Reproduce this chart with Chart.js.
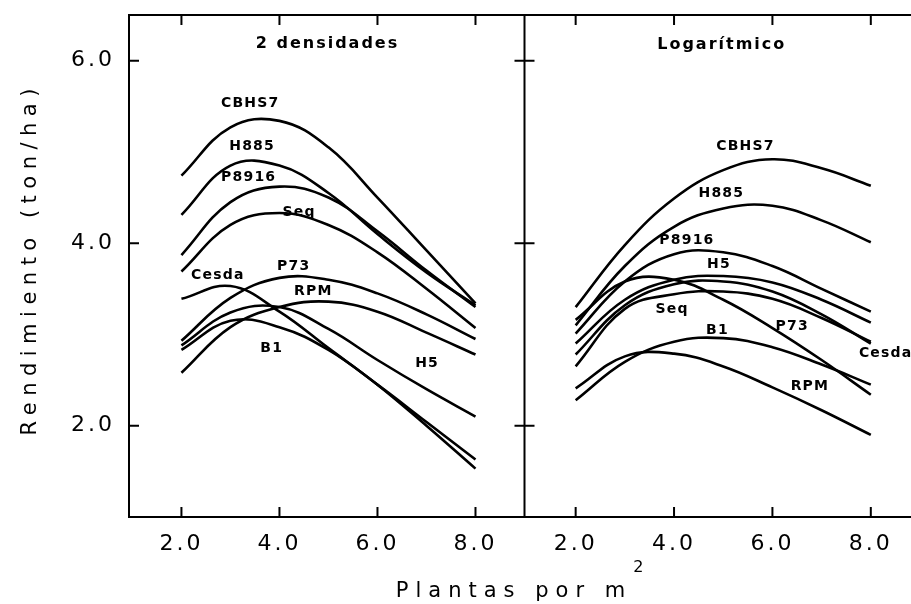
<!DOCTYPE html>
<html lang="es">
<head>
<meta charset="utf-8">
<title>Rendimiento por densidad de plantas</title>
<script src="https://cdn.jsdelivr.net/npm/chart.js@4.4.1/dist/chart.umd.min.js"></script>
<style>
  html, body { margin: 0; padding: 0; background: #fff; overflow: hidden; }
  #grafico { display: block; }
</style>
</head>
<body>
<canvas id="grafico" width="922" height="604"></canvas>
<script>
// Densidades evaluadas (plantas por m2) y marcas de los ejes
const densidades = [2, 3, 4, 5, 6, 7, 8];
const ticksX = [2, 4, 6, 8];
const ticksY = [2, 4, 6];

// Panel izquierdo: ajuste con 2 densidades (ton/ha)
const dosCBHS7 = [4.74, 5.27, 5.34, 5.05, 4.50, 3.92, 3.34];
const dosH885  = [4.31, 4.85, 4.85, 4.55, 4.10, 3.68, 3.32];
const dosP8916 = [3.87, 4.45, 4.62, 4.50, 4.13, 3.70, 3.30];
const dosSeq   = [3.69, 4.20, 4.33, 4.20, 3.90, 3.50, 3.07];
const dosCesda = [3.39, 3.53, 3.25, 2.85, 2.45, 2.00, 1.53];
const dosP73   = [2.93, 3.40, 3.62, 3.60, 3.45, 3.22, 2.95];
const dosRPM   = [2.58, 3.08, 3.30, 3.36, 3.25, 3.02, 2.78];
const dosB1    = [2.83, 3.15, 3.08, 2.83, 2.45, 2.04, 1.63];
const dosH5    = [2.88, 3.24, 3.30, 3.06, 2.72, 2.40, 2.10];

// Panel derecho: modelo logaritmico (ton/ha)
const logCBHS7 = [3.30, 3.98, 4.49, 4.80, 4.92, 4.82, 4.63];
const logH885  = [3.10, 3.75, 4.18, 4.38, 4.41, 4.25, 4.01];
const logP8916 = [3.01, 3.58, 3.88, 3.90, 3.75, 3.50, 3.25];
const logH5    = [2.90, 3.38, 3.60, 3.64, 3.57, 3.38, 3.13];
const logCesda = [2.78, 3.32, 3.55, 3.58, 3.47, 3.22, 2.90];
const logP73   = [3.16, 3.58, 3.60, 3.38, 3.07, 2.72, 2.34];
const logSeq   = [2.65, 3.28, 3.44, 3.47, 3.39, 3.18, 2.92];
const logB1    = [2.28, 2.70, 2.92, 2.96, 2.86, 2.67, 2.45];
const logRPM   = [2.41, 2.76, 2.79, 2.65, 2.42, 2.17, 1.90];

// Etiquetas de cada curva: [texto, densidad, rendimiento]
const etiquetasDos = [
  ['CBHS7', 3.39, 5.53], ['H885', 3.43, 5.06], ['P8916', 3.36, 4.72],
  ['Seq', 4.39, 4.34], ['Cesda', 2.73, 3.65], ['P73', 4.28, 3.75],
  ['RPM', 4.68, 3.47], ['B1', 3.83, 2.85], ['H5', 7.0, 2.68]
];
const etiquetasLog = [
  ['CBHS7', 5.44, 5.06], ['H885', 4.95, 4.55], ['P8916', 4.25, 4.03],
  ['H5', 4.90, 3.77], ['Seq', 3.95, 3.28], ['B1', 4.87, 3.05],
  ['P73', 6.39, 3.09], ['Cesda', 8.29, 2.79], ['RPM', 6.75, 2.43]
];

const FUENTE = '"DejaVu Sans", sans-serif';

function serie(valores, eje) {
  return {
    data: densidades.map((d, i) => ({ x: d, y: valores[i] })),
    xAxisID: eje,
    yAxisID: 'y',
    borderColor: '#000',
    borderWidth: 2.6,
    pointRadius: 0,
    tension: 0.4,
    fill: false
  };
}

const seriesDos = [dosCBHS7, dosH885, dosP8916, dosSeq, dosCesda, dosP73, dosRPM, dosB1, dosH5];
const seriesLog = [logCBHS7, logH885, logP8916, logH5, logCesda, logP73, logSeq, logB1, logRPM];

function escribir(ctx, texto, x, y, fuente, espacio) {
  ctx.font = fuente;
  ctx.letterSpacing = espacio + 'px';
  ctx.fillText(texto, x + espacio / 2, y);
}

// Marco, marcas hacia adentro y todos los textos
const decorado = {
  id: 'decorado',
  beforeDraw(chart) {
    chart.ctx.letterSpacing = '3px';
  },
  afterDraw(chart) {
    const { ctx, chartArea: a, scales } = chart;
    const xi = scales.xIzq, xd = scales.xDer, y = scales.y;
    const division = xi.right;
    ctx.save();
    ctx.strokeStyle = '#000';
    ctx.lineWidth = 2;
    ctx.strokeRect(a.left, a.top, a.right - a.left, a.bottom - a.top);
    ctx.beginPath();
    ctx.moveTo(division, a.top);
    ctx.lineTo(division, a.bottom);
    const largo = 10;
    [xi, xd].forEach(esc => ticksX.forEach(v => {
      const px = esc.getPixelForValue(v);
      ctx.moveTo(px, a.bottom); ctx.lineTo(px, a.bottom - largo);
      ctx.moveTo(px, a.top); ctx.lineTo(px, a.top + largo);
    }));
    ticksY.forEach(v => {
      const py = y.getPixelForValue(v);
      ctx.moveTo(a.left, py); ctx.lineTo(a.left + largo, py);
      ctx.moveTo(division - largo, py); ctx.lineTo(division + largo, py);
    });
    ctx.stroke();

    ctx.fillStyle = '#000';
    ctx.textAlign = 'center';
    ctx.textBaseline = 'middle';
    escribir(ctx, '2 densidades', xi.getPixelForValue(4.96), y.getPixelForValue(6.18), 'bold 16px ' + FUENTE, 2);
    escribir(ctx, 'Logarítmico', xd.getPixelForValue(4.95), y.getPixelForValue(6.17), 'bold 16px ' + FUENTE, 2);
    etiquetasDos.forEach(([t, d, r]) =>
      escribir(ctx, t, xi.getPixelForValue(d), y.getPixelForValue(r), 'bold 14px ' + FUENTE, 1.2));
    etiquetasLog.forEach(([t, d, r]) =>
      escribir(ctx, t, xd.getPixelForValue(d), y.getPixelForValue(r), 'bold 14px ' + FUENTE, 1.2));

    // Titulos de los ejes
    ctx.textBaseline = 'alphabetic';
    ctx.save();
    ctx.translate(36, 262);
    ctx.rotate(-Math.PI / 2);
    escribir(ctx, 'Rendimiento (ton/ha)', 0, 0, '21px ' + FUENTE, 6.5);
    ctx.restore();
    ctx.textAlign = 'left';
    ctx.font = '21px ' + FUENTE;
    ctx.letterSpacing = '7px';
    const titulo = 'Plantas por m';
    const ancho = ctx.measureText(titulo).width;
    const inicio = 514 - ancho / 2;
    ctx.fillText(titulo, inicio, 597);
    ctx.font = '16px ' + FUENTE;
    ctx.letterSpacing = '0px';
    ctx.fillText('2', inicio + ancho + 1, 572);
    ctx.restore();
  }
};

const ejeX = (min, max) => ({
  type: 'linear',
  position: 'bottom',
  stack: 'paneles',
  stackWeight: 1,
  min: min,
  max: max,
  afterBuildTicks: esc => { esc.ticks = ticksX.map(v => ({ value: v })); },
  afterFit: esc => { esc.height = 87; esc.paddingLeft = 0; esc.paddingRight = 0; },
  grid: { display: false, drawTicks: false },
  border: { display: false },
  ticks: {
    color: '#000',
    padding: 14,
    maxRotation: 0,
    font: { family: FUENTE, size: 22 },
    callback: v => v.toFixed(1)
  }
});

new Chart(document.getElementById('grafico'), {
  type: 'line',
  data: {
    datasets: seriesDos.map(s => serie(s, 'xIzq')).concat(seriesLog.map(s => serie(s, 'xDer')))
  },
  options: {
    responsive: false,
    animation: false,
    layout: { padding: { top: 15, right: 2, left: 0, bottom: 0 } },
    plugins: { legend: { display: false }, tooltip: { enabled: false } },
    scales: {
      xIzq: ejeX(0.93, 9.0),
      xDer: ejeX(0.96, 9.0),
      y: {
        type: 'linear',
        position: 'left',
        min: 1,
        max: 6.5,
        afterBuildTicks: esc => { esc.ticks = ticksY.map(v => ({ value: v })); },
        afterFit: esc => { esc.width = 129; esc.paddingTop = 0; esc.paddingBottom = 0; },
        grid: { display: false, drawTicks: false },
        border: { display: false },
        ticks: {
          color: '#000',
          padding: 14,
          font: { family: FUENTE, size: 22 },
          callback: v => v.toFixed(1)
        }
      }
    }
  },
  plugins: [decorado]
});
</script>
</body>
</html>
